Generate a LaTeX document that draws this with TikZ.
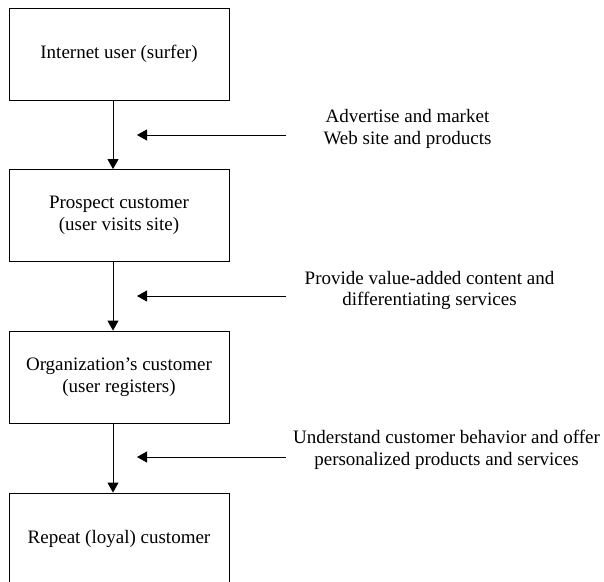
\documentclass[tikz,border=0pt]{standalone}
\usepackage{fontspec}
\setmainfont{Liberation Serif}
\usetikzlibrary{arrows.meta}
\begin{document}
\begin{tikzpicture}[x=1pt,y=-1pt,
  stage/.style={draw, line width=0.9pt, minimum width=220pt, minimum height=92pt,
    align=center, inner sep=0pt, font=\fontsize{19}{21.5}\selectfont},
  note/.style={align=center, inner sep=0pt, font=\fontsize{19}{21.5}\selectfont},
  flow/.style={line width=0.9pt, -{Triangle[width=11pt,length=10pt]}},
]
\useasboundingbox (0,0) rectangle (604,581);
\clip (0,0) rectangle (604,581);

% stages of the customer funnel
\node[stage] (s1) at (119,54)    {Internet user (surfer)};
\node[stage] (s2) at (119,215.5) {Prospect customer\\(user visits site)};
\node[stage] (s3) at (119,377)   {Organization’s customer\\(user registers)};
\node[stage] (s4) at (119,539)   {Repeat (loyal) customer};

% transitions between stages
\draw[flow] ([xshift=-6pt]s1.south) -- ([xshift=-6pt]s2.north);
\draw[flow] ([xshift=-6pt]s2.south) -- ([xshift=-6pt]s3.north);
\draw[flow] ([xshift=-6pt]s3.south) -- ([xshift=-6pt]s4.north);

% actions driving each transition
\node[note] (a1) at (407.5,129) {Advertise and market\\Web site and products};
\node[note] (a2) at (429.5,290.5) {Provide value-added content and\\differentiating services};
\node[note] (a3) at (446.5,450) {Understand customer behavior and offer\\personalized products and services};

\coordinate (t1) at (286,135);  \coordinate (h1) at (137,135);
\coordinate (t2) at (286,296);  \coordinate (h2) at (137,296);
\coordinate (t3) at (286,457);  \coordinate (h3) at (137,457);
\draw[flow] (t1) -- (h1);
\draw[flow] (t2) -- (h2);
\draw[flow] (t3) -- (h3);
\end{tikzpicture}
\end{document}
